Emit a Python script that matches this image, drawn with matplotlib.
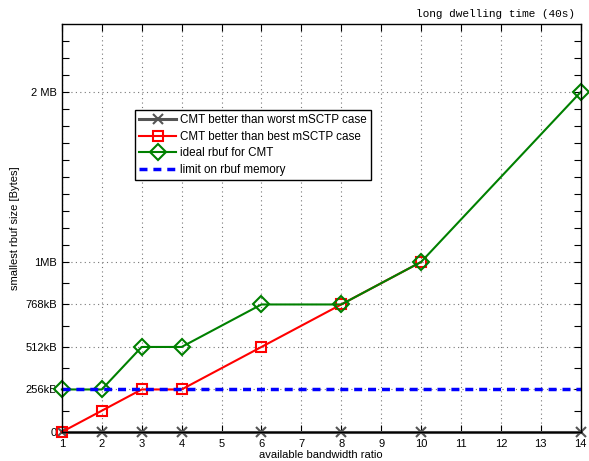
import matplotlib.pyplot as plt
from matplotlib.ticker import FixedLocator

plt.rcParams['font.family'] = ['Liberation Sans', 'DejaVu Sans']

# bandwidth ratios and buffer sizes (kB)
ratio = [1, 2, 3, 4, 6, 8, 10, 14]
worst = [0, 0, 0, 0, 0, 0, 0, 0]
best_ratio = [1, 2, 3, 4, 6, 8, 10]
best = [0, 128, 256, 256, 512, 768, 1024]
ideal = [256, 256, 512, 512, 768, 768, 1024, 2048]
limit_x = [1, 14]
limit = [256, 256]

ytick_vals = [0, 256, 512, 768, 1024, 2048]
ytick_labels = ['0', '256kB', '512kB', '768kB', '1MB', '2 MB']
yminor = [128, 384, 640, 896] + [1024 + 102.4 * k for k in range(1, 14) if k != 10]

fig = plt.figure(figsize=(5.89, 4.61), dpi=100)
ax = fig.add_axes([0.105, 0.063, 0.881, 0.885])

ax.plot(ratio, worst, color='#555555', lw=2.2, marker='x', ms=7, mew=1.5,
        clip_on=False, label='CMT better than worst mSCTP case')
ax.plot(best_ratio, best, color='red', lw=1.5, marker='s', ms=7, mew=1.5,
        mfc='none', clip_on=False, label='CMT better than best mSCTP case')
ax.plot(ratio, ideal, color='#008000', lw=1.5, marker='D', ms=8.5, mew=1.5,
        mfc='none', clip_on=False, label='ideal rbuf for CMT')
ax.plot(limit_x, limit, color='blue', lw=2.5, ls=(0, (2.3, 1.7)),
        clip_on=False, label='limit on rbuf memory')

ax.set_xlim(1, 14)
ax.set_ylim(0, 2457.6)
ax.set_xticks(range(1, 15))
ax.set_yticks(ytick_vals)
ax.set_yticklabels(ytick_labels)
ax.yaxis.set_minor_locator(FixedLocator(yminor))
ax.tick_params(which='both', direction='in', top=True, right=True,
               length=5, width=0.8, labelsize=8)
ax.tick_params(axis='x', pad=5)
ax.grid(True, which='major', ls=(0, (1, 3)), color='#777777', lw=0.8)
for s in ax.spines.values():
    s.set_linewidth(1)

ax.set_xlabel('available bandwidth ratio', fontsize=8, labelpad=1)
ax.set_ylabel('smallest rbuf size [Bytes]', fontsize=8, labelpad=4)

leg = ax.legend(loc='upper left', bbox_to_anchor=(0.141, 0.789), fontsize=8.4,
                fancybox=False, edgecolor='black', framealpha=1,
                handlelength=3.2, borderpad=0.35, labelspacing=0.4,
                handletextpad=0.3, borderaxespad=0)
leg.get_frame().set_linewidth(1)

fig.text(575 / 589, 1 - 14 / 461, 'long dwelling time (40s)',
         family='Liberation Mono', fontsize=8, ha='right', va='center')

fig.savefig('out.png', dpi=100)
